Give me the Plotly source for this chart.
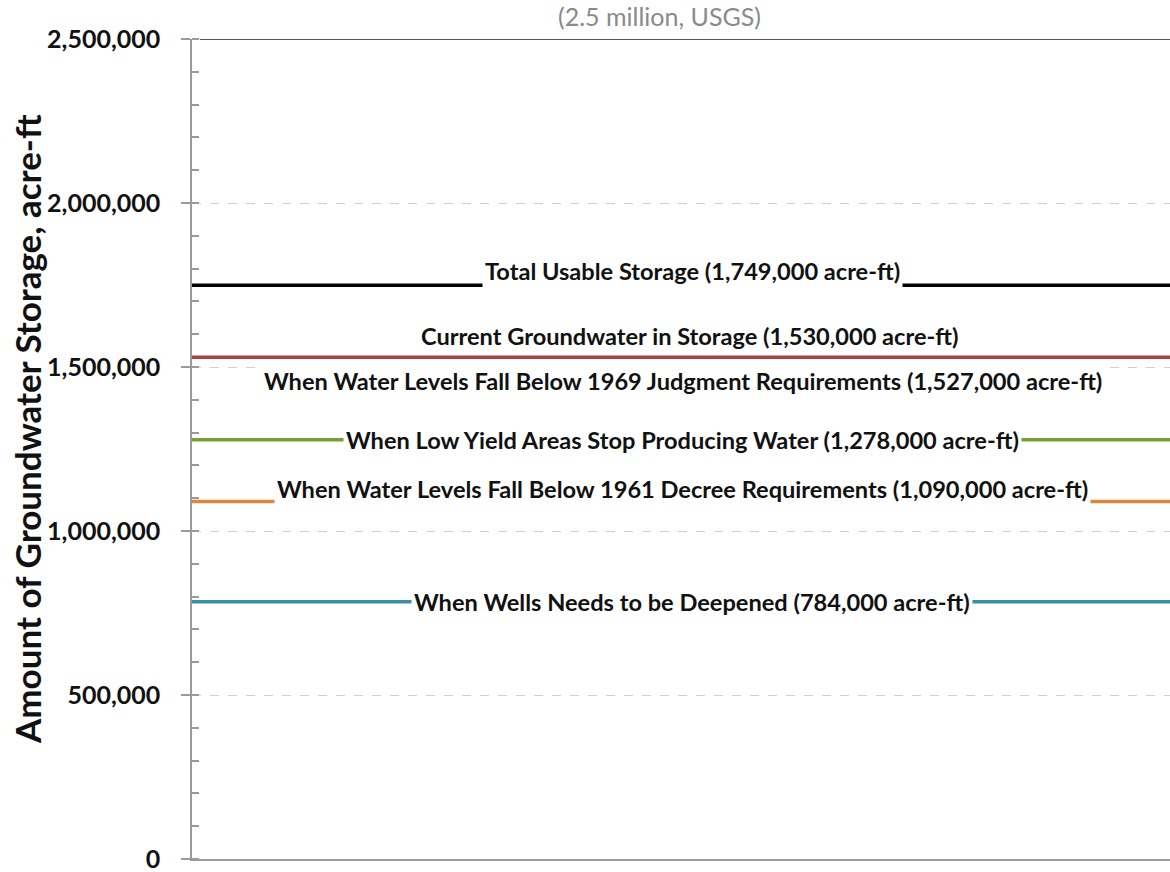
import plotly.graph_objects as go

# Storage levels (acre-ft)
labels = [
    "Total Usable Storage (1,749,000 acre-ft)",
    "Current Groundwater in Storage (1,530,000 acre-ft)",
    "When Water Levels Fall Below 1969 Judgment Requirements (1,527,000 acre-ft)",
    "When Low Yield Areas Stop Producing Water (1,278,000 acre-ft)",
    "When Water Levels Fall Below 1961 Decree Requirements (1,090,000 acre-ft)",
    "When Wells Needs to be Deepened (784,000 acre-ft)",
]
values = [1749000, 1530000, 1527000, 1278000, 1090000, 784000]
colors = ["#000000", "#A8413F", None, "#7A9C3C", "#DC8840", "#3A8DA6"]

usgs_total = 2500000
usgs_label = "(2.5 million, USGS)"

tick_vals = [0, 500000, 1000000, 1500000, 2000000, 2500000]
tick_text = ["0", "500,000", "1,000,000", "1,500,000", "2,000,000", "2,500,000"]

y_title = "Amount of Groundwater Storage, acre-ft"

# label placement: horizontal centre (paper) and vertical offset in px
label_x = [0.512, 0.509, 0.502, 0.502, 0.502, 0.511]
label_shift = [14, 21, -23, 0, 12, 0]

FONT = "Lato"
L, T, B = 192, 39, 13

fig = go.Figure()

fig.add_trace(go.Scatter(
    x=[0.008, 1], y=[usgs_total, usgs_total], mode="lines",
    line=dict(color="#555555", width=2), cliponaxis=False,
    hoverinfo="skip", showlegend=False,
))

for v, c in zip(values, colors):
    if c is None:
        continue
    fig.add_trace(go.Scatter(
        x=[0, 1], y=[v, v], mode="lines",
        line=dict(color=c, width=3.5), cliponaxis=False,
        hoverinfo="skip", showlegend=False,
    ))

for lab, v, lx, ys in zip(labels, values, label_x, label_shift):
    fig.add_annotation(
        x=lx, xref="paper", y=v, yref="y", yshift=ys,
        text=lab, showarrow=False, xanchor="center", yanchor="middle",
        bgcolor="white", borderpad=2,
        font=dict(family=FONT, size=23.6, color="#111111", weight="bold"),
    )

fig.add_annotation(
    x=0.478, xref="paper", y=usgs_total, yref="y", yshift=23,
    text=usgs_label, showarrow=False, xanchor="center", yanchor="middle",
    font=dict(family=FONT, size=25, color="#8a8a8a"),
)

# rotated y-axis title, placed a little above the plot's vertical centre
plot_h = 872 - T - B
fig.add_annotation(
    x=0, xref="paper", xshift=-(L - 27), xanchor="center",
    y=(872 - B - 429) / plot_h, yref="paper", yanchor="middle",
    text=y_title, textangle=-90, showarrow=False,
    font=dict(family=FONT, size=35, color="#111111", weight="bold"),
)

fig.update_layout(
    width=1170, height=872,
    margin=dict(l=L, r=0, t=T, b=B),
    paper_bgcolor="white", plot_bgcolor="white",
    xaxis=dict(
        range=[0, 1], showticklabels=False, showgrid=False, zeroline=False,
        showline=True, linecolor="#9a9a9a", linewidth=1.5, ticks="",
        automargin=False,
    ),
    yaxis=dict(
        range=[0, 2500000], tickvals=tick_vals, ticktext=tick_text,
        ticks="outside", ticklen=9, tickcolor="#9a9a9a", tickwidth=1.5,
        showline=True, linecolor="#9a9a9a", linewidth=1.5,
        showgrid=True, gridcolor="#cfcfcf", griddash="dash", gridwidth=1,
        zeroline=False, ticklabelstandoff=16, ticklabeloverflow="allow",
        automargin=False,
        minor=dict(dtick=100000, ticks="inside", ticklen=7,
                   tickcolor="#9a9a9a", tickwidth=1.5, showgrid=False),
        tickfont=dict(family=FONT, size=25, color="#111111", weight="bold"),
    ),
)

fig.write_html("out.html")
